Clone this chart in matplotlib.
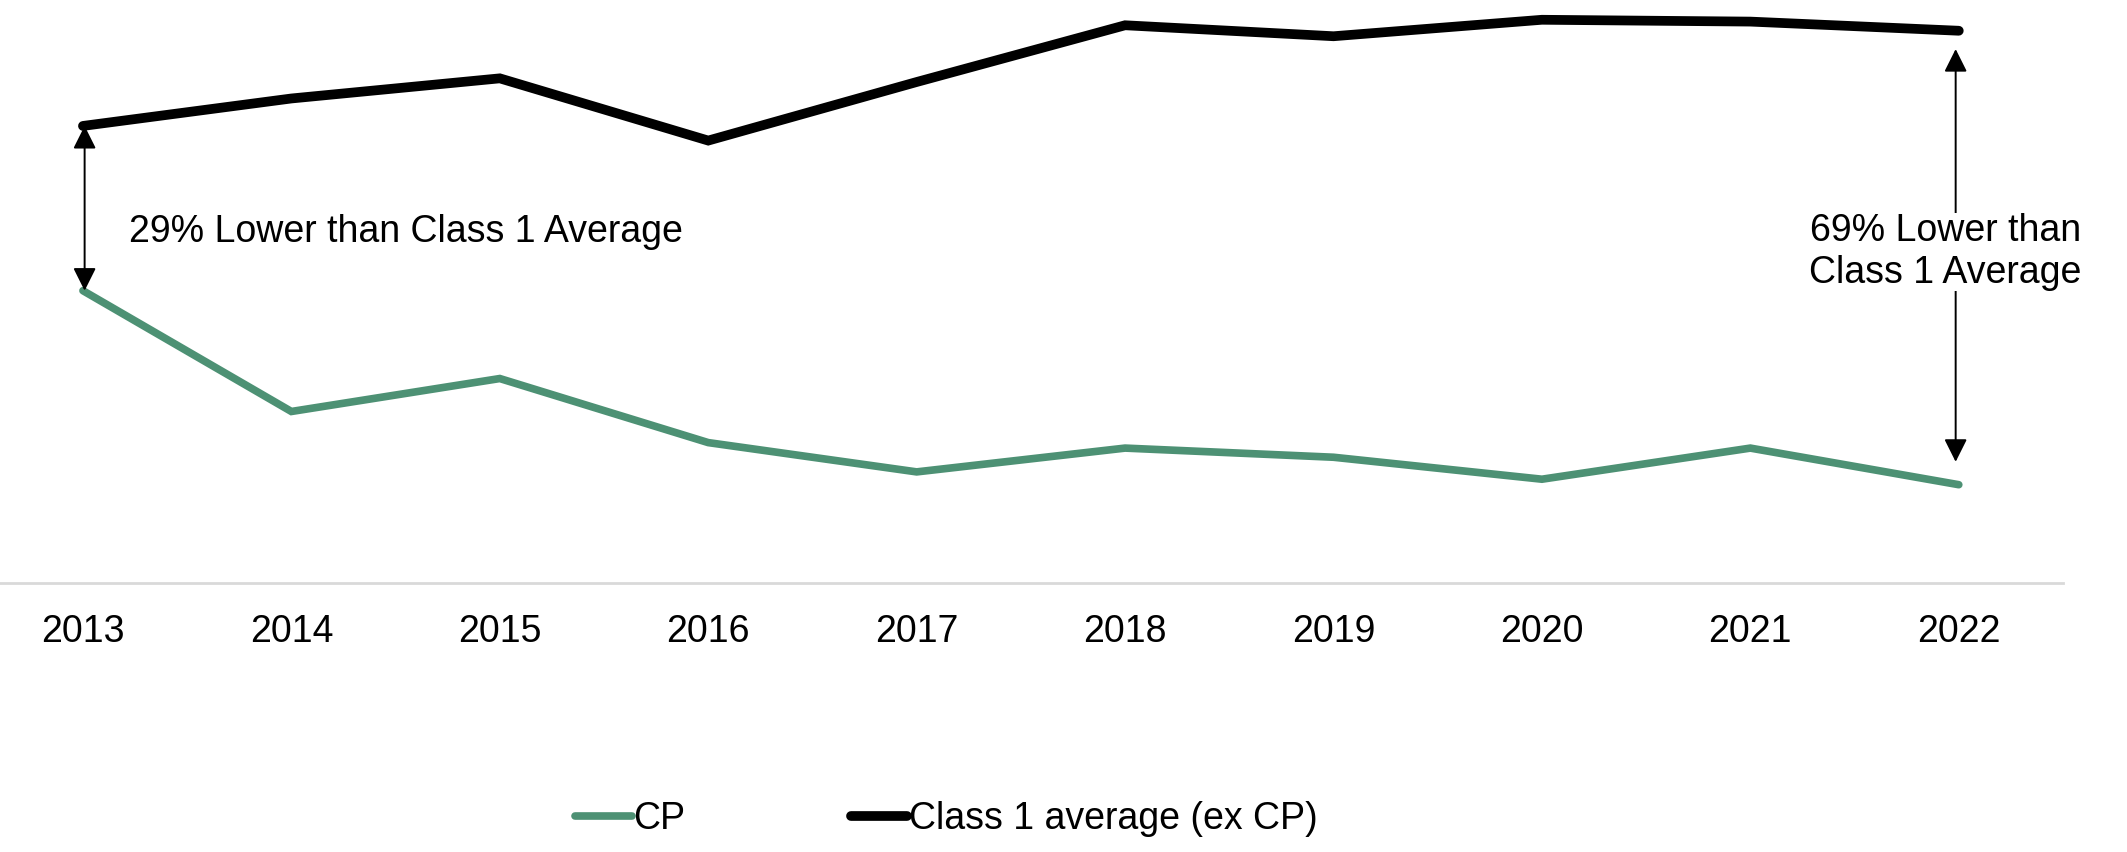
import matplotlib
matplotlib.use("Agg")
import matplotlib.pyplot as plt
import numpy as np

plt.rcParams['font.family'] = ['Liberation Sans', 'DejaVu Sans']

years = ['2013', '2014', '2015', '2016', '2017', '2018', '2019', '2020', '2021', '2022']
cp = [2.19, 1.53, 1.71, 1.36, 1.20, 1.33, 1.28, 1.16, 1.33, 1.13]
class1 = [3.09, 3.24, 3.35, 3.01, 3.33, 3.64, 3.58, 3.67, 3.66, 3.61]
note_2013 = '29% Lower than Class 1 Average'
note_2022 = '69% Lower than\nClass 1 Average'

green = '#4D9174'
x = np.arange(len(years))

fig = plt.figure(figsize=(21.27, 8.52), dpi=100)
ax = fig.add_axes([0, 1 - 583 / 852, 2063 / 2127, 583 / 852])

ax.plot(x, cp, color=green, lw=5.5, solid_capstyle='round', solid_joinstyle='miter', label='CP')
ax.plot(x, class1, color='black', lw=7, solid_capstyle='round', solid_joinstyle='miter',
        label='Class 1 average (ex CP)')

ax.set_xlim(-0.398, 9.5)
ax.set_ylim(0.593, 3.778)

arrow = dict(arrowstyle='<|-|>,head_length=0.7,head_width=0.35', color='black', lw=1.4,
             shrinkA=0, shrinkB=0, mutation_scale=20)
ax.annotate('', xy=(0.008, class1[0]), xytext=(0.008, cp[0]), arrowprops=arrow)
ax.text(0.22, 2.51, note_2013, fontsize=27, va='center', ha='left')

ax.annotate('', xy=(8.985, class1[9] - 0.1), xytext=(8.985, cp[9] + 0.125), arrowprops=arrow)
ax.text(8.935, 2.40, note_2022, fontsize=27, va='center', ha='center', linespacing=1.22,
        bbox=dict(facecolor='white', edgecolor='none', pad=0))

for s in ['top', 'right', 'left']:
    ax.spines[s].set_visible(False)
ax.spines['bottom'].set_color('#D9D9D9')
ax.spines['bottom'].set_linewidth(2)
ax.set_yticks([])
ax.set_xticks(x)
ax.set_xticklabels(years, fontsize=27)
ax.tick_params(axis='x', length=0, pad=22)

fig.legend(loc='center', bbox_to_anchor=(0.445, 0.039), ncol=2, frameon=False, fontsize=27,
           handlelength=1.5, handletextpad=0.05, columnspacing=4.4)

fig.savefig('out.png', dpi=100)
